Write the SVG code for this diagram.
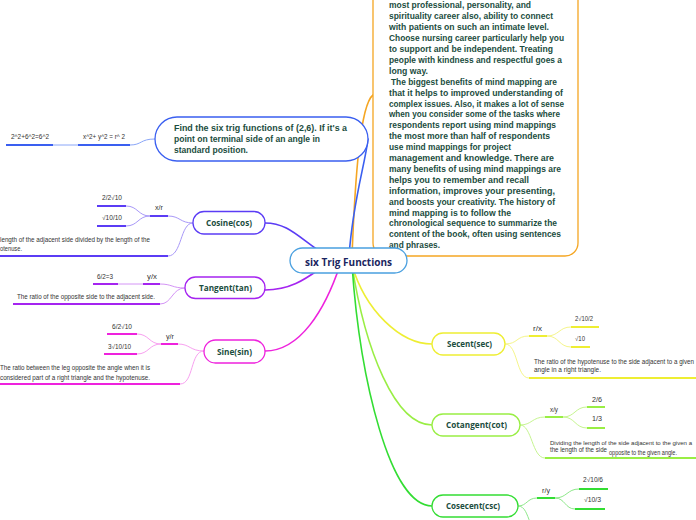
<svg xmlns="http://www.w3.org/2000/svg" width="696" height="520" viewBox="0 0 696 520">
<style>
.nt{font-family:"Open Sans","Noto Sans",sans-serif;font-weight:bold;font-size:9px;fill:#1b4d3e}
.pt{font-family:"Liberation Sans","Open Sans",sans-serif;font-weight:bold;font-size:9px;fill:#1b4d3e}
.ct{font-family:"Open Sans","Noto Sans",sans-serif;font-weight:bold;font-size:10.5px;fill:#1a2560}
.lt{font-family:"Liberation Sans","Open Sans",sans-serif;font-size:6.3px;fill:#333}
.main{fill:none;stroke-width:1.6;stroke-linecap:round}
.thin{fill:none;stroke-width:1}
.ul{stroke-width:2;stroke-linecap:butt}
.box{fill:#fff;stroke-width:1.3}
</style>
<rect width="696" height="520" fill="#fff"/>
<g id="connectors">
  <path class="main" stroke="#f5a623" d="M352,256 C355,180 360,105 373,95"/>
  <path class="main" stroke="#3a5ff0" d="M349,256 C353,200 365,165 368,139"/>
  <path class="main" stroke="#5b3cf5" d="M265,223 C290,223 300,240 330,258"/>
  <path class="main" stroke="#a524f0" d="M265,290 C295,290 310,275 330,262"/>
  <path class="main" stroke="#ee22dd" d="M265,351 C300,351 325,310 340,265"/>
  <path class="main" stroke="#eeee33" d="M352,265 C365,310 400,344 432,344"/>
  <path class="main" stroke="#99ee44" d="M352,265 C365,350 395,425 432,425"/>
  <path class="main" stroke="#33dd33" d="M352,265 C360,380 390,506 432,506"/>
  <path class="thin" stroke="#8aa6f8" d="M155,139 C140,139 142,145 130,145 M78,145 L53,145"/>
  <path class="thin" stroke="#a898f8" d="M193,223 C180,223 180,216 168,216 M150,216 C138,216 138,206 126,206 M150,216 C138,216 138,226 126,226 M193,223 C180,223 182,256 168,256"/>
  <path class="thin" stroke="#d494f6" d="M185,288 C172,288 172,284 160,284 M143,284 L118,284 M185,288 C172,288 172,304 160,304"/>
  <path class="thin" stroke="#f8a0f0" d="M204,351 C190,351 190,344 178,344 M161,344 C149,344 149,334 137,334 M161,344 C149,344 149,354 137,354 M204,351 C190,351 194,384 180,384"/>
  <path class="thin" stroke="#f5f58a" d="M505,344 C518,344 516,336 529,336 M547,336 C559,336 559,327 571,327 M547,336 C559,336 559,347 571,347 M505,344 C518,344 516,378 529,378"/>
  <path class="thin" stroke="#c6f590" d="M520,425 C532,425 532,417 545,417 M563,417 C575,417 575,407 587,407 M563,417 C575,417 575,428 587,428 M520,425 C532,425 532,458 545,458"/>
  <path class="thin" stroke="#8ee88a" d="M518,506 C527,506 527,498 537,498 M555,498 C567,498 567,489 579,489 M555,498 C565,498 565,509 575,509 M518,506 C525,506 527,515 530,522"/>
  <g class="ul" stroke="#3a5ff0"><line x1="78" y1="145" x2="130" y2="145"/><line x1="6" y1="145" x2="53" y2="145"/></g>
  <g class="ul" stroke="#5b3cf5"><line x1="150" y1="216" x2="168" y2="216"/><line x1="97" y1="206" x2="126" y2="206"/><line x1="97" y1="226" x2="126" y2="226"/><line x1="0" y1="256" x2="168" y2="256"/></g>
  <g class="ul" stroke="#a524f0"><line x1="143" y1="284" x2="160" y2="284"/><line x1="93" y1="284" x2="118" y2="284"/><line x1="13" y1="304" x2="160" y2="304"/></g>
  <g class="ul" stroke="#ee22dd"><line x1="161" y1="344" x2="178" y2="344"/><line x1="107" y1="334" x2="137" y2="334"/><line x1="104" y1="354" x2="137" y2="354"/><line x1="0" y1="384" x2="180" y2="384"/></g>
  <g class="ul" stroke="#eeee33"><line x1="529" y1="336" x2="547" y2="336"/><line x1="571" y1="327" x2="599" y2="327"/><line x1="571" y1="347" x2="590" y2="347"/><line x1="529" y1="378" x2="696" y2="378"/></g>
  <g class="ul" stroke="#99ee44"><line x1="545" y1="417" x2="563" y2="417"/><line x1="587" y1="407" x2="605" y2="407"/><line x1="587" y1="428" x2="605" y2="428"/><line x1="545" y1="458" x2="696" y2="458"/></g>
  <g class="ul" stroke="#33dd33"><line x1="537" y1="498" x2="555" y2="498"/><line x1="579" y1="489" x2="608" y2="489"/><line x1="575" y1="509" x2="605" y2="509"/></g>
</g>

<g id="note">
  <rect class="box" x="373" y="-20" width="205" height="276" rx="13" stroke="#f5a623"/>
  <g class="pt">
    <text x="389" y="8.4" textLength="142" lengthAdjust="spacingAndGlyphs">most professional, personality, and</text>
    <text x="389" y="19.3" textLength="164" lengthAdjust="spacingAndGlyphs">spirituality career also, ability to connect</text>
    <text x="389" y="30.2" textLength="160" lengthAdjust="spacingAndGlyphs">with patients on such an intimate level.</text>
    <text x="389" y="41.1" textLength="175" lengthAdjust="spacingAndGlyphs">Choose nursing career particularly help you</text>
    <text x="389" y="52" textLength="164" lengthAdjust="spacingAndGlyphs">to support and be independent. Treating</text>
    <text x="389" y="62.9" textLength="173" lengthAdjust="spacingAndGlyphs">people with kindness and respectful goes a</text>
    <text x="389" y="73.8" textLength="39" lengthAdjust="spacingAndGlyphs">long way.</text>
    <text x="391" y="84.7" textLength="166" lengthAdjust="spacingAndGlyphs">The biggest benefits of mind mapping are</text>
    <text x="389" y="95.6" textLength="174" lengthAdjust="spacingAndGlyphs">that it helps to improved understanding of</text>
    <text x="389" y="106.5" textLength="175" lengthAdjust="spacingAndGlyphs">complex issues. Also, it makes a lot of sense</text>
    <text x="389" y="117.4" textLength="171" lengthAdjust="spacingAndGlyphs">when you consider some of the tasks where</text>
    <text x="389" y="128.3" textLength="167" lengthAdjust="spacingAndGlyphs">respondents report using mind mappings</text>
    <text x="389" y="139.2" textLength="161" lengthAdjust="spacingAndGlyphs">the most more than half of respondents</text>
    <text x="389" y="150.1" textLength="122" lengthAdjust="spacingAndGlyphs">use mind mappings for project</text>
    <text x="389" y="161" textLength="165" lengthAdjust="spacingAndGlyphs">management and knowledge. There are</text>
    <text x="389" y="171.9" textLength="172" lengthAdjust="spacingAndGlyphs">many benefits of using mind mappings are</text>
    <text x="389" y="182.8" textLength="140" lengthAdjust="spacingAndGlyphs">helps you to remember and recall</text>
    <text x="389" y="193.7" textLength="166" lengthAdjust="spacingAndGlyphs">information, improves your presenting,</text>
    <text x="389" y="204.6" textLength="166" lengthAdjust="spacingAndGlyphs">and boosts your creativity. The history of</text>
    <text x="389" y="215.5" textLength="122" lengthAdjust="spacingAndGlyphs">mind mapping is to follow the</text>
    <text x="389" y="226.4" textLength="168" lengthAdjust="spacingAndGlyphs">chronological sequence to summarize the</text>
    <text x="389" y="237.3" textLength="172" lengthAdjust="spacingAndGlyphs">content of the book, often using sentences</text>
    <text x="389" y="248.2" textLength="51" lengthAdjust="spacingAndGlyphs">and phrases.</text>
  </g>
</g>

<g id="find">
  <rect class="box" x="155" y="117" width="213" height="44" rx="22" stroke="#3a5ff0"/>
  <text class="pt" x="174" y="131.2" textLength="173" lengthAdjust="spacingAndGlyphs">Find the six trig functions of (2,6). If it's a</text>
  <text class="pt" x="174" y="142.2" textLength="146" lengthAdjust="spacingAndGlyphs">point on terminal side of an angle in</text>
  <text class="pt" x="174" y="153.2" textLength="74" lengthAdjust="spacingAndGlyphs">standard position.</text>
  <text class="lt" x="83" y="139.3" textLength="42" lengthAdjust="spacingAndGlyphs">x^2+ y^2 = r^ 2</text>
  <text class="lt" x="11" y="139.3" textLength="38" lengthAdjust="spacingAndGlyphs">2^2+6^2=6^2</text>
</g>

<g id="center">
  <rect class="box" x="290" y="248" width="117" height="25" rx="12.5" stroke="#4aa0e0"/>
  <text class="ct" x="305" y="265.8" textLength="87" lengthAdjust="spacingAndGlyphs">six Trig Functions</text>
</g>

<g id="cosine">
  <rect class="box" x="193" y="211.5" width="72" height="22.5" rx="11" stroke="#5b3cf5"/>
  <text class="nt" x="206" y="226.2" textLength="46" lengthAdjust="spacingAndGlyphs">Cosine(cos)</text>
  <text class="lt" x="155" y="210.3" textLength="8" lengthAdjust="spacingAndGlyphs">x/r</text>
  <text class="lt" x="102" y="200.3" textLength="20" lengthAdjust="spacingAndGlyphs">2/2√10</text>
  <text class="lt" x="102" y="220.3" textLength="20" lengthAdjust="spacingAndGlyphs">√10/10</text>
  <text class="lt" x="0" y="242.3" textLength="150" lengthAdjust="spacingAndGlyphs">length of the adjacent side divided by the length of the</text>
  <text class="lt" x="0" y="251.3" textLength="22" lengthAdjust="spacingAndGlyphs">otenuse.</text>
</g>

<g id="tangent">
  <rect class="box" x="185" y="277" width="80" height="21.5" rx="10.5" stroke="#a524f0"/>
  <text class="nt" x="199" y="291.2" textLength="53" lengthAdjust="spacingAndGlyphs">Tangent(tan)</text>
  <text class="lt" x="147" y="279.3" textLength="10" lengthAdjust="spacingAndGlyphs">y/x</text>
  <text class="lt" x="97" y="279.3" textLength="16" lengthAdjust="spacingAndGlyphs">6/2=3</text>
  <text class="lt" x="17" y="299.3" textLength="138" lengthAdjust="spacingAndGlyphs">The ratio of the opposite side to the adjacent side.</text>
</g>

<g id="sine">
  <rect class="box" x="204" y="340" width="61" height="23" rx="11.5" stroke="#ee22dd"/>
  <text class="nt" x="217" y="354.6" textLength="35" lengthAdjust="spacingAndGlyphs">Sine(sin)</text>
  <text class="lt" x="166" y="339.3" textLength="8" lengthAdjust="spacingAndGlyphs">y/r</text>
  <text class="lt" x="112" y="329.3" textLength="20" lengthAdjust="spacingAndGlyphs">6/2√10</text>
  <text class="lt" x="108" y="349.3" textLength="23" lengthAdjust="spacingAndGlyphs">3√10/10</text>
  <text class="lt" x="0" y="370.3" textLength="150" lengthAdjust="spacingAndGlyphs">The ratio between the leg opposite the angle when it is</text>
  <text class="lt" x="0" y="379.8" textLength="150" lengthAdjust="spacingAndGlyphs">considered part of a right triangle and the hypotenuse.</text>
</g>

<g id="secent">
  <rect class="box" x="432" y="333" width="73" height="22" rx="11" stroke="#eeee33"/>
  <text class="nt" x="447" y="347.3" textLength="45" lengthAdjust="spacingAndGlyphs">Secent(sec)</text>
  <text class="lt" x="533" y="331.3" textLength="9" lengthAdjust="spacingAndGlyphs">r/x</text>
  <text class="lt" x="575" y="321.3" textLength="18" lengthAdjust="spacingAndGlyphs">2√10/2</text>
  <text class="lt" x="575" y="341.3" textLength="10" lengthAdjust="spacingAndGlyphs">√10</text>
  <text class="lt" x="534" y="364" textLength="160" lengthAdjust="spacingAndGlyphs">The ratio of the hypotenuse to the side adjacent to a given</text>
  <text class="lt" x="534" y="372.3" textLength="67" lengthAdjust="spacingAndGlyphs">angle in a right triangle.</text>
</g>

<g id="cotangent">
  <rect class="box" x="432" y="414" width="88" height="22" rx="11" stroke="#99ee44"/>
  <text class="nt" x="446" y="428.3" textLength="61" lengthAdjust="spacingAndGlyphs">Cotangent(cot)</text>
  <text class="lt" x="550" y="412.3" textLength="8" lengthAdjust="spacingAndGlyphs">x/y</text>
  <text class="lt" x="592" y="402.3" textLength="10" lengthAdjust="spacingAndGlyphs">2/6</text>
  <text class="lt" x="592" y="421.3" textLength="10" lengthAdjust="spacingAndGlyphs">1/3</text>
  <text class="lt" x="550" y="445" style="font-size:5.6px" textLength="142" lengthAdjust="spacingAndGlyphs">Dividing the length of the side adjacent to the given a</text>
  <text class="lt" x="550" y="452.2" textLength="57" lengthAdjust="spacingAndGlyphs">the length of the side</text>
  <text class="lt" x="609" y="455.4" textLength="68" lengthAdjust="spacingAndGlyphs">opposite to the given angle.</text>
</g>

<g id="cosecent">
  <rect class="box" x="432" y="495" width="86" height="22" rx="11" stroke="#33dd33"/>
  <text class="nt" x="446" y="509.3" textLength="54" lengthAdjust="spacingAndGlyphs">Cosecent(csc)</text>
  <text class="lt" x="542" y="493.3" textLength="8" lengthAdjust="spacingAndGlyphs">r/y</text>
  <text class="lt" x="583" y="482.3" textLength="20" lengthAdjust="spacingAndGlyphs">2√10/6</text>
  <text class="lt" x="584" y="502.3" textLength="17" lengthAdjust="spacingAndGlyphs">√10/3</text>
</g>
</svg>
